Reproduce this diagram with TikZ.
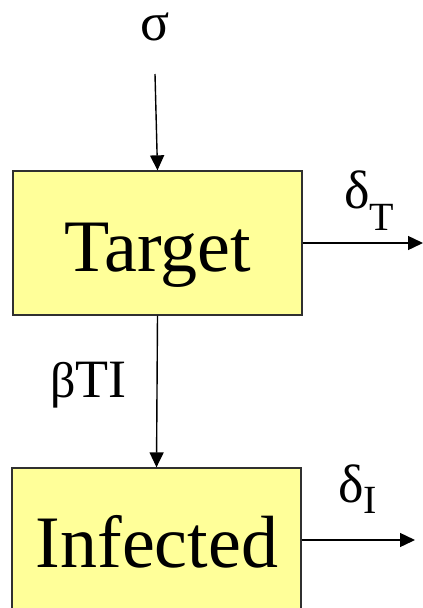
\documentclass[tikz,border=0pt]{standalone}
\usepackage{fontspec}
\setmainfont{Liberation Serif}
\usetikzlibrary{arrows.meta}
\definecolor{boxfill}{HTML}{FFFF99}
\definecolor{boxline}{HTML}{303030}
\newcommand{\mysubfont}{\fontsize{40}{40}\selectfont}
\begin{document}
\begin{tikzpicture}[x=1pt,y=-1pt,
  compbox/.style={draw=boxline,fill=boxfill,line width=1.3pt,rectangle,inner sep=0pt,minimum width=289pt,minimum height=144pt},
  bigtext/.style={font=\fontsize{74}{74}\selectfont,inner sep=0pt,anchor=base},
  labtext/.style={inner sep=0pt,anchor=base west,font=\fontsize{54}{54}\selectfont},
  flow/.style={line width=1.4pt,-{Triangle[length=15pt,width=14pt]}}]
\useasboundingbox (0,0) rectangle (423,608);
\clip (0,0) rectangle (423,608);
\node[compbox] (T) at (157.5,243) {};
\node[compbox] (I) at (156.5,540) {};
\node[bigtext] (Tt) at (157.5,271) {Target};
\node[bigtext] (It) at (157,567) {Infected};
\coordinate (s0) at (155,74);
\coordinate (dT) at (423,243);
\coordinate (dI) at (415,540);
\node[labtext,anchor=base,text height=26pt,text depth=0pt] (sig) at (155,40) {σ};
\node[labtext] (dTl) at (344,208) {δ\raisebox{-22pt}{\mysubfont T}};
\node[labtext] (dIl) at (338,502) {δ\raisebox{-11pt}{\mysubfont I}};
\node[labtext] (beta) at (50,397) {{\fontsize{50}{50}\selectfont β}TI};
\draw[flow] (s0) -- (T.north);
\draw[flow] (T.south) -- (I.north);
\draw[flow] (T.east) -- (dT);
\draw[flow] (I.east) -- (dI);
\end{tikzpicture}
\end{document}
